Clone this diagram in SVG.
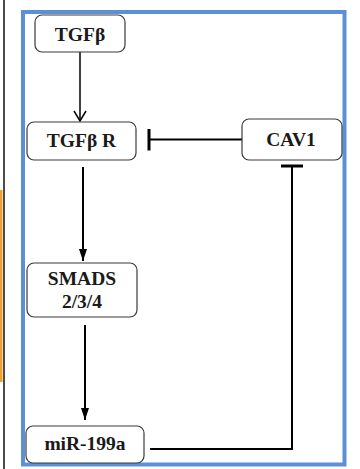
<svg xmlns="http://www.w3.org/2000/svg" width="360" height="469" viewBox="0 0 360 469">
<defs>
<style>
.box{fill:#fff;stroke:#3a3a3a;stroke-width:1.2}
text{font-family:'Liberation Serif','Times New Roman',serif;font-weight:bold;font-size:19.5px;fill:#1a1a1a;text-anchor:middle}
.ln{fill:none;stroke:#000;stroke-width:2}
</style>
<marker id="vee" viewBox="0 0 12 14" refX="11" refY="7" markerWidth="12" markerHeight="14" markerUnits="userSpaceOnUse" orient="auto">
<path d="M1,1 L11,7 L1,13" fill="none" stroke="#000" stroke-width="1.5"/>
</marker>
<marker id="tri" viewBox="0 0 12 10" refX="12" refY="5" markerWidth="12" markerHeight="10" markerUnits="userSpaceOnUse" orient="auto">
<path d="M0,1 L12,5 L0,9 Z" fill="#000"/>
</marker>
<marker id="tee" viewBox="0 0 4 22" refX="2" refY="11" markerWidth="4" markerHeight="22" markerUnits="userSpaceOnUse" orient="auto">
<rect x="0.5" y="0" width="3" height="22" fill="#000"/>
</marker>
</defs>
<rect width="360" height="469" fill="#fff"/>
<line x1="4" y1="0" x2="4" y2="469" stroke="#111" stroke-width="1.5"/>
<rect x="0" y="190" width="2.5" height="192" fill="#f0a030"/>
<rect x="23" y="12" width="321.5" height="452.5" fill="none" stroke="#5b8fd6" stroke-width="4"/>
<g id="connectors">
<line class="ln" x1="80" y1="52" x2="80" y2="121" marker-end="url(#vee)" style="stroke-width:1.5"/>
<line class="ln" x1="83" y1="167" x2="83" y2="261" marker-end="url(#tri)"/>
<line class="ln" x1="85" y1="325" x2="85" y2="420" marker-end="url(#tri)"/>
<line class="ln" x1="242" y1="139.5" x2="149" y2="139.5" marker-end="url(#tee)"/>
<polyline class="ln" points="150,449 292,449 292,166" marker-end="url(#tee)"/>
</g>
<g id="tgfb">
<rect class="box" x="35" y="15" width="90" height="37" rx="7"/>
<text x="80" y="41">TGFβ</text>
</g>
<g id="tgfbr">
<rect class="box" x="27" y="122" width="109" height="38" rx="7"/>
<text x="81.5" y="147">TGFβ R</text>
</g>
<g id="cav1">
<rect class="box" x="242" y="119" width="100" height="41" rx="7"/>
<text x="291" y="146">CAV1</text>
</g>
<g id="smads">
<rect class="box" x="27" y="263" width="110" height="54" rx="7"/>
<text x="82" y="285">SMADS</text>
<text x="82" y="308">2/3/4</text>
</g>
<g id="mir199a">
<rect class="box" x="26" y="426" width="118" height="37" rx="7"/>
<text x="85" y="450">miR-199a</text>
</g>
</svg>
